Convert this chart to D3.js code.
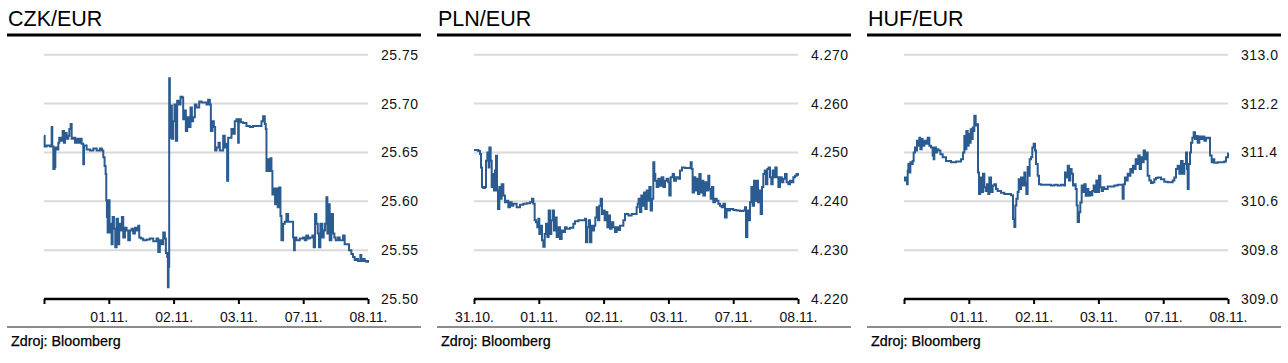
<!DOCTYPE html>
<html>
<head>
<meta charset="utf-8">
<script src="https://cdn.jsdelivr.net/npm/d3@7"></script>
<style>
body { margin: 0; background: #fff; }
text { font-family: Arial, "Liberation Sans", sans-serif; }
</style>
</head>
<body>
<svg id="chart"></svg>
<script>
// trading days on the x axis (index 0..5)
var dayLabels = ["31.10.", "01.11.", "02.11.", "03.11.", "07.11.", "08.11."]

var czkT = [0, 0.010, 0.041, 0.092, 0.118, 0.128, 0.144, 0.164, 0.175, 0.195, 0.221, 0.236, 0.257, 0.288, 0.308, 0.324, 0.349, 0.375, 0.391, 0.411, 0.427, 0.452, 0.478, 0.504, 0.529, 0.555, 0.581, 0.606, 0.617, 0.658, 0.709, 0.761, 0.812, 0.863, 0.894, 0.915, 0.935, 0.951, 0.961, 0.971, 0.982, 0.997, 1.012, 1.028, 1.043, 1.059, 1.079, 1.100, 1.120, 1.141, 1.161, 1.182, 1.202, 1.223, 1.249, 1.274, 1.300, 1.326, 1.351, 1.377, 1.403, 1.429, 1.454, 1.470, 1.495, 1.531, 1.583, 1.634, 1.686, 1.737, 1.763, 1.788, 1.814, 1.840, 1.865, 1.881, 1.901, 1.912, 1.922, 1.932, 1.942, 1.958, 1.973, 1.994, 2.014, 2.035, 2.055, 2.086, 2.107, 2.138, 2.148, 2.174, 2.189, 2.210, 2.235, 2.261, 2.282, 2.302, 2.328, 2.354, 2.395, 2.431, 2.482, 2.508, 2.533, 2.559, 2.575, 2.600, 2.621, 2.641, 2.662, 2.693, 2.713, 2.744, 2.765, 2.790, 2.806, 2.826, 2.842, 2.867, 2.893, 2.919, 2.944, 2.970, 2.996, 3.006, 3.037, 3.073, 3.124, 3.176, 3.227, 3.279, 3.330, 3.356, 3.381, 3.407, 3.422, 3.433, 3.453, 3.474, 3.494, 3.510, 3.525, 3.551, 3.566, 3.587, 3.607, 3.628, 3.649, 3.664, 3.690, 3.715, 3.741, 3.767, 3.792, 3.818, 3.844, 3.859, 3.870, 3.895, 3.947, 3.998, 4.024, 4.049, 4.075, 4.101, 4.142, 4.162, 4.183, 4.203, 4.224, 4.244, 4.265, 4.296, 4.317, 4.337, 4.358, 4.373, 4.388, 4.409, 4.435, 4.460, 4.481, 4.501, 4.538, 4.563, 4.615, 4.640, 4.666, 4.707, 4.743, 4.769, 4.794, 4.820, 4.846, 4.882, 4.897, 4.923, 4.949, 4.974, 5.000]
var czkV = [25.667, 25.656, 25.657, 25.656, 25.676, 25.656, 25.633, 25.635, 25.655, 25.653, 25.660, 25.665, 25.662, 25.672, 25.660, 25.670, 25.664, 25.667, 25.674, 25.679, 25.664, 25.665, 25.660, 25.664, 25.660, 25.664, 25.659, 25.638, 25.657, 25.653, 25.652, 25.654, 25.652, 25.654, 25.652, 25.645, 25.636, 25.628, 25.601, 25.584, 25.568, 25.601, 25.577, 25.568, 25.556, 25.584, 25.572, 25.553, 25.582, 25.556, 25.577, 25.570, 25.584, 25.563, 25.573, 25.570, 25.560, 25.570, 25.572, 25.567, 25.573, 25.570, 25.575, 25.563, 25.562, 25.560, 25.561, 25.562, 25.559, 25.562, 25.548, 25.560, 25.556, 25.568, 25.562, 25.547, 25.543, 25.512, 25.533, 25.726, 25.665, 25.698, 25.664, 25.682, 25.699, 25.662, 25.703, 25.699, 25.707, 25.706, 25.684, 25.693, 25.672, 25.686, 25.676, 25.696, 25.682, 25.686, 25.699, 25.696, 25.702, 25.701, 25.701, 25.699, 25.704, 25.699, 25.672, 25.682, 25.676, 25.652, 25.655, 25.660, 25.652, 25.652, 25.667, 25.655, 25.659, 25.621, 25.665, 25.665, 25.674, 25.669, 25.682, 25.684, 25.660, 25.684, 25.681, 25.680, 25.677, 25.676, 25.677, 25.677, 25.677, 25.682, 25.687, 25.679, 25.674, 25.631, 25.643, 25.631, 25.644, 25.631, 25.607, 25.613, 25.597, 25.613, 25.594, 25.614, 25.585, 25.560, 25.577, 25.579, 25.587, 25.579, 25.579, 25.579, 25.563, 25.550, 25.563, 25.560, 25.562, 25.563, 25.560, 25.565, 25.562, 25.563, 25.565, 25.553, 25.587, 25.577, 25.567, 25.553, 25.577, 25.563, 25.570, 25.577, 25.604, 25.567, 25.597, 25.560, 25.587, 25.567, 25.563, 25.560, 25.563, 25.560, 25.565, 25.556, 25.556, 25.550, 25.546, 25.543, 25.540, 25.541, 25.539, 25.545, 25.539, 25.541, 25.539, 25.538, 25.540]

var plnT = [0, 0.067, 0.093, 0.108, 0.123, 0.144, 0.170, 0.185, 0.206, 0.226, 0.237, 0.257, 0.273, 0.288, 0.309, 0.324, 0.340, 0.355, 0.370, 0.391, 0.412, 0.427, 0.453, 0.478, 0.504, 0.530, 0.556, 0.581, 0.607, 0.658, 0.710, 0.761, 0.813, 0.864, 0.895, 0.916, 0.936, 0.957, 0.977, 0.993, 1.008, 1.029, 1.049, 1.070, 1.091, 1.111, 1.132, 1.152, 1.173, 1.193, 1.214, 1.235, 1.255, 1.276, 1.301, 1.327, 1.353, 1.379, 1.404, 1.430, 1.481, 1.533, 1.559, 1.610, 1.687, 1.713, 1.728, 1.749, 1.770, 1.790, 1.811, 1.831, 1.852, 1.872, 1.893, 1.914, 1.934, 1.955, 1.975, 1.996, 2.016, 2.037, 2.058, 2.078, 2.099, 2.124, 2.150, 2.176, 2.202, 2.227, 2.253, 2.279, 2.305, 2.330, 2.382, 2.433, 2.485, 2.510, 2.526, 2.541, 2.562, 2.582, 2.603, 2.623, 2.644, 2.665, 2.685, 2.706, 2.726, 2.747, 2.767, 2.783, 2.798, 2.819, 2.845, 2.870, 2.896, 2.922, 2.948, 2.973, 2.999, 3.014, 3.035, 3.066, 3.086, 3.117, 3.153, 3.179, 3.210, 3.256, 3.308, 3.344, 3.359, 3.374, 3.395, 3.416, 3.436, 3.457, 3.477, 3.498, 3.519, 3.539, 3.565, 3.591, 3.616, 3.632, 3.652, 3.673, 3.693, 3.719, 3.745, 3.771, 3.796, 3.822, 3.848, 3.873, 3.899, 3.925, 3.951, 4.002, 4.053, 4.105, 4.156, 4.182, 4.198, 4.218, 4.239, 4.259, 4.280, 4.300, 4.321, 4.342, 4.362, 4.383, 4.403, 4.424, 4.444, 4.465, 4.486, 4.506, 4.527, 4.547, 4.568, 4.588, 4.609, 4.630, 4.650, 4.671, 4.697, 4.722, 4.748, 4.774, 4.799, 4.825, 4.851, 4.877, 4.902, 4.928, 4.954, 4.979, 5.000]
var plnV = [4.2505, 4.2503, 4.2497, 4.2469, 4.2429, 4.2427, 4.2429, 4.2483, 4.2500, 4.2469, 4.2510, 4.2483, 4.2429, 4.2456, 4.2422, 4.2463, 4.2493, 4.2422, 4.2384, 4.2429, 4.2405, 4.2435, 4.2412, 4.2398, 4.2401, 4.2388, 4.2398, 4.2391, 4.2395, 4.2388, 4.2393, 4.2395, 4.2396, 4.2398, 4.2405, 4.2395, 4.2361, 4.2357, 4.2347, 4.2364, 4.2333, 4.2350, 4.2320, 4.2307, 4.2333, 4.2354, 4.2327, 4.2381, 4.2333, 4.2361, 4.2381, 4.2340, 4.2367, 4.2327, 4.2347, 4.2323, 4.2340, 4.2337, 4.2347, 4.2344, 4.2346, 4.2354, 4.2359, 4.2361, 4.2361, 4.2364, 4.2316, 4.2347, 4.2361, 4.2316, 4.2350, 4.2340, 4.2350, 4.2367, 4.2388, 4.2361, 4.2391, 4.2405, 4.2374, 4.2381, 4.2361, 4.2378, 4.2347, 4.2371, 4.2344, 4.2357, 4.2347, 4.2337, 4.2347, 4.2341, 4.2350, 4.2350, 4.2361, 4.2374, 4.2371, 4.2374, 4.2374, 4.2388, 4.2395, 4.2405, 4.2378, 4.2412, 4.2391, 4.2418, 4.2384, 4.2422, 4.2401, 4.2429, 4.2381, 4.2405, 4.2480, 4.2456, 4.2442, 4.2429, 4.2446, 4.2432, 4.2449, 4.2429, 4.2442, 4.2446, 4.2439, 4.2412, 4.2449, 4.2456, 4.2442, 4.2449, 4.2446, 4.2463, 4.2469, 4.2468, 4.2468, 4.2480, 4.2466, 4.2418, 4.2449, 4.2422, 4.2446, 4.2415, 4.2456, 4.2418, 4.2442, 4.2412, 4.2439, 4.2422, 4.2452, 4.2425, 4.2405, 4.2429, 4.2398, 4.2405, 4.2401, 4.2395, 4.2391, 4.2388, 4.2395, 4.2367, 4.2384, 4.2381, 4.2384, 4.2382, 4.2381, 4.2380, 4.2381, 4.2388, 4.2327, 4.2381, 4.2361, 4.2398, 4.2429, 4.2391, 4.2442, 4.2401, 4.2442, 4.2398, 4.2422, 4.2374, 4.2429, 4.2456, 4.2463, 4.2435, 4.2466, 4.2469, 4.2449, 4.2435, 4.2463, 4.2449, 4.2469, 4.2449, 4.2429, 4.2449, 4.2439, 4.2446, 4.2456, 4.2439, 4.2435, 4.2442, 4.2439, 4.2449, 4.2452, 4.2456, 4.2452]

var hufT = [0, 0.015, 0.031, 0.046, 0.057, 0.067, 0.082, 0.098, 0.118, 0.134, 0.149, 0.170, 0.185, 0.201, 0.221, 0.237, 0.252, 0.273, 0.288, 0.314, 0.340, 0.365, 0.391, 0.417, 0.442, 0.458, 0.468, 0.494, 0.509, 0.530, 0.561, 0.597, 0.648, 0.725, 0.802, 0.880, 0.910, 0.931, 0.947, 0.962, 0.983, 0.998, 1.013, 1.029, 1.044, 1.060, 1.075, 1.085, 1.106, 1.127, 1.142, 1.157, 1.178, 1.199, 1.219, 1.240, 1.260, 1.281, 1.301, 1.317, 1.343, 1.368, 1.394, 1.420, 1.445, 1.497, 1.548, 1.600, 1.651, 1.682, 1.703, 1.718, 1.734, 1.754, 1.770, 1.785, 1.806, 1.831, 1.857, 1.872, 1.888, 1.908, 1.924, 1.939, 1.960, 1.980, 2.001, 2.022, 2.037, 2.063, 2.083, 2.114, 2.166, 2.217, 2.269, 2.320, 2.371, 2.423, 2.464, 2.485, 2.505, 2.526, 2.546, 2.567, 2.587, 2.608, 2.629, 2.649, 2.665, 2.680, 2.701, 2.721, 2.742, 2.762, 2.783, 2.804, 2.824, 2.845, 2.865, 2.886, 2.906, 2.927, 2.948, 2.968, 2.989, 3.009, 3.030, 3.050, 3.071, 3.092, 3.143, 3.194, 3.246, 3.297, 3.349, 3.374, 3.390, 3.410, 3.431, 3.452, 3.472, 3.493, 3.513, 3.534, 3.554, 3.575, 3.596, 3.616, 3.637, 3.657, 3.678, 3.698, 3.719, 3.740, 3.760, 3.786, 3.812, 3.837, 3.863, 3.889, 3.915, 3.966, 4.017, 4.069, 4.120, 4.146, 4.172, 4.198, 4.223, 4.249, 4.275, 4.300, 4.326, 4.352, 4.367, 4.378, 4.393, 4.414, 4.429, 4.450, 4.470, 4.491, 4.511, 4.532, 4.558, 4.583, 4.609, 4.635, 4.660, 4.686, 4.712, 4.722, 4.748, 4.769, 4.789, 4.841, 4.892, 4.943, 4.969, 5.000]
var hufV = [310.99, 310.94, 310.99, 310.88, 311.10, 311.21, 311.07, 311.24, 311.21, 311.26, 311.40, 311.48, 311.43, 311.59, 311.51, 311.64, 311.45, 311.62, 311.51, 311.59, 311.54, 311.64, 311.51, 311.48, 311.35, 311.29, 311.48, 311.40, 311.45, 311.43, 311.37, 311.32, 311.26, 311.24, 311.25, 311.29, 311.40, 311.67, 311.45, 311.75, 311.51, 311.70, 311.56, 311.78, 311.62, 311.81, 311.75, 312.00, 311.84, 311.86, 311.07, 310.72, 310.99, 310.75, 311.05, 310.83, 310.77, 310.88, 310.72, 310.99, 310.75, 310.86, 310.88, 310.80, 310.77, 310.74, 310.72, 310.72, 310.70, 310.31, 310.18, 310.53, 310.64, 310.75, 310.96, 310.80, 310.99, 310.86, 311.07, 310.91, 310.72, 311.16, 311.02, 311.29, 311.32, 311.48, 311.54, 311.43, 311.21, 311.02, 310.88, 310.87, 310.87, 310.87, 310.86, 310.87, 310.86, 310.87, 310.86, 311.07, 310.99, 311.18, 310.94, 311.13, 311.05, 310.86, 310.88, 310.80, 310.53, 310.26, 310.42, 310.58, 310.86, 310.75, 310.88, 310.69, 310.80, 310.69, 310.75, 310.70, 310.77, 310.86, 310.75, 310.94, 310.75, 311.02, 310.83, 310.77, 310.83, 310.80, 310.84, 310.84, 310.86, 310.87, 310.87, 310.64, 310.88, 310.99, 310.94, 311.05, 311.02, 311.13, 311.07, 311.18, 311.13, 311.29, 311.21, 311.35, 311.13, 311.32, 311.24, 311.43, 311.29, 311.40, 311.02, 310.94, 310.90, 310.91, 310.96, 310.98, 310.99, 310.96, 310.92, 310.91, 310.91, 310.94, 310.99, 311.13, 311.18, 311.05, 311.26, 311.05, 311.21, 311.40, 311.13, 310.80, 311.21, 311.40, 311.56, 311.64, 311.73, 311.62, 311.67, 311.56, 311.66, 311.62, 311.66, 311.59, 311.64, 311.63, 311.64, 311.35, 311.24, 311.29, 311.23, 311.24, 311.24, 311.25, 311.32, 311.40]

var czkTicks = [25.50, 25.55, 25.60, 25.65, 25.70, 25.75]
var plnTicks = [4.220, 4.230, 4.240, 4.250, 4.260, 4.270]
var hufTicks = [309.0, 309.8, 310.6, 311.4, 312.2, 313.0]

var panels = [
	{ title: "CZK/EUR", t: czkT, v: czkV, ticks: czkTicks, fmt: d3.format(".2f"), firstLabel: false },
	{ title: "PLN/EUR", t: plnT, v: plnV, ticks: plnTicks, fmt: d3.format(".3f"), firstLabel: true },
	{ title: "HUF/EUR", t: hufT, v: hufV, ticks: hufTicks, fmt: d3.format(".1f"), firstLabel: false }
]

var width = 1288
var height = 363
var panelW = 430

var svg = d3.select("#chart").attr("width", width).attr("height", height)

var lineColor = "#2b5c91"

panels.forEach(function (p, i) {
	var g = svg.append("g").attr("transform", "translate(" + i * panelW + ",0)")

	var xScale = d3.scaleLinear().domain([0, 5]).range([44, 368])
	var yScale = d3.scaleLinear().domain([p.ticks[0], p.ticks[p.ticks.length - 1]]).range([299, 54.7])

	g.append("text")
		.attr("x", 8)
		.attr("y", 26)
		.attr("font-size", 21.5)
		.attr("fill", "#000")
		.text(p.title)

	g.append("line")
		.attr("x1", 7).attr("x2", 421)
		.attr("y1", 35).attr("y2", 35)
		.attr("stroke", "#000")
		.attr("stroke-width", 3)

	// grid lines
	g.selectAll(".grid")
		.data(p.ticks.slice(1))
		.enter()
		.append("line")
		.attr("x1", 44).attr("x2", 368)
		.attr("y1", d => yScale(d)).attr("y2", d => yScale(d))
		.attr("stroke", "#d9d9d9")
		.attr("stroke-width", 2)

	// y labels on the right
	g.selectAll(".ylab")
		.data(p.ticks)
		.enter()
		.append("text")
		.attr("x", 381)
		.attr("y", d => yScale(d))
		.attr("dy", "0.36em")
		.attr("font-size", 14)
		.attr("letter-spacing", 0.5)
		.attr("fill", "#111")
		.text(d => p.fmt(d))

	// the series
	var line = d3.line()
		.x(d => xScale(d[0]))
		.y(d => yScale(d[1]))
		.curve(d3.curveStepAfter)

	g.append("path")
		.datum(d3.zip(p.t, p.v))
		.attr("d", line)
		.attr("fill", "none")
		.attr("stroke", lineColor)
		.attr("stroke-width", 2)

	// x axis
	var xAxis = d3.axisBottom(xScale)
		.tickValues(d3.range(dayLabels.length))
		.tickSize(5)
		.tickFormat((d, j) => (j === 0 && !p.firstLabel) ? "" : dayLabels[j])

	var ax = g.append("g").attr("transform", "translate(0,299)").call(xAxis)
	ax.select(".domain").attr("stroke", "#000").attr("stroke-width", 2.5).attr("d", "M44,0H368")
	ax.selectAll(".tick line").attr("stroke", "#000").attr("stroke-width", 2)
	ax.selectAll(".tick text")
		.attr("y", 13)
		.attr("dy", "0.71em")
		.attr("font-size", 14)
		.attr("font-family", "Arial, 'Liberation Sans', sans-serif")
		.attr("fill", "#111")

	g.append("line")
		.attr("x1", 7).attr("x2", 421)
		.attr("y1", 327).attr("y2", 327)
		.attr("stroke", "#8c8c8c")
		.attr("stroke-width", 2)

	g.append("text")
		.attr("x", 11)
		.attr("y", 346)
		.attr("font-size", 14.3)
		.attr("fill", "#000")
		.attr("stroke", "#000")
		.attr("stroke-width", 0.25)
		.text("Zdroj: Bloomberg")
})
</script>
</body>
</html>
